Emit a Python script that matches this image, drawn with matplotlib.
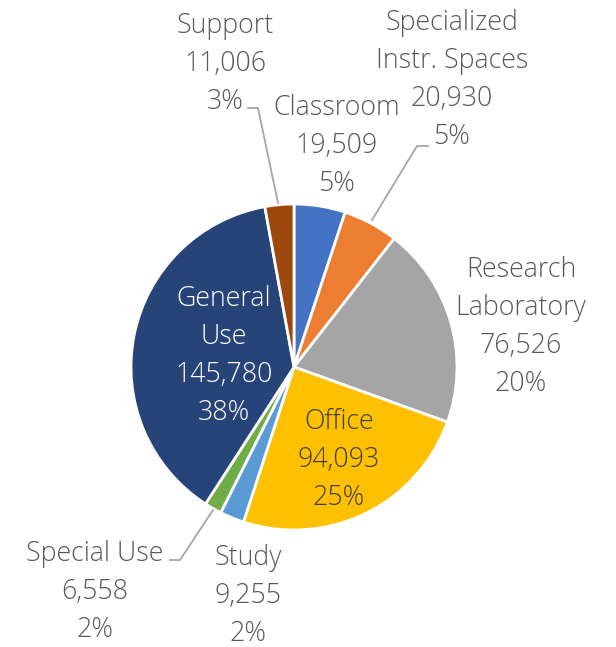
import matplotlib
matplotlib.use('Agg')
from matplotlib import pyplot as plt

labels = ['Classroom', 'Specialized\nInstr. Spaces', 'Research\nLaboratory', 'Office',
          'Study', 'Special Use', 'General\nUse', 'Support']
values = [19509, 20930, 76526, 94093, 9255, 6558, 145780, 11006]
colors = ['#4472C4', '#ED7D31', '#A5A5A5', '#FFC000', '#5B9BD5', '#70AD47', '#264478', '#9E480E']

# label block centres in pixels (layout only)
label_px = [(337, 146), (452, 80), (521, 327), (339, 460),
            (248, 596), (95, 592), (224, 356), (225, 64)]
text_colors = ['#595959', '#595959', '#595959', '#404040',
               '#595959', '#595959', 'white', '#595959']
# leader lines in pixels: (text end, elbow, wedge)
leaders = {1: [(428, 146), (417, 146), (372, 220)],
           5: [(170, 560), (180, 560), (213, 510)],
           7: [(248, 108), (258, 108), (278, 203)]}

W, H, DPI = 616, 647, 100
CX, CY, R = 294, 367, 163
STEP = 38  # line step in pixels

def to_data(px, py):
  return (px - CX) / R, (CY - py) / R

plt.rcParams['font.family'] = ['Open Sans', 'DejaVu Sans']

fig = plt.figure(figsize=(W / DPI, H / DPI), dpi=DPI)
ax = fig.add_axes([0, 0, 1, 1])
ax.pie(values, colors=colors, startangle=90, counterclock=False, radius=1,
       wedgeprops={'edgecolor': 'white', 'linewidth': 2})
ax.set_xlim(-CX / R, (W - CX) / R)
ax.set_ylim(-(H - CY) / R, CY / R)
ax.set_aspect('auto')
ax.axis('off')

total = sum(values)
for i, (lab, v) in enumerate(zip(labels, values)):
  lines = lab.split('\n') + ['{:,}'.format(v), '{:.0f}%'.format(100 * v / total)]
  px, py = label_px[i]
  n = len(lines)
  for k, line in enumerate(lines):
    x, y = to_data(px, py + (k - (n - 1) / 2) * STEP)
    ax.text(x, y, line, ha='center', va='center', fontsize=19.3, fontweight='light',
            color=text_colors[i])

for i, pts in leaders.items():
  xs, ys = zip(*[to_data(*p) for p in pts])
  ax.plot(xs, ys, color='#A6A6A6', lw=1.3)

fig.savefig('out.png', dpi=DPI)
